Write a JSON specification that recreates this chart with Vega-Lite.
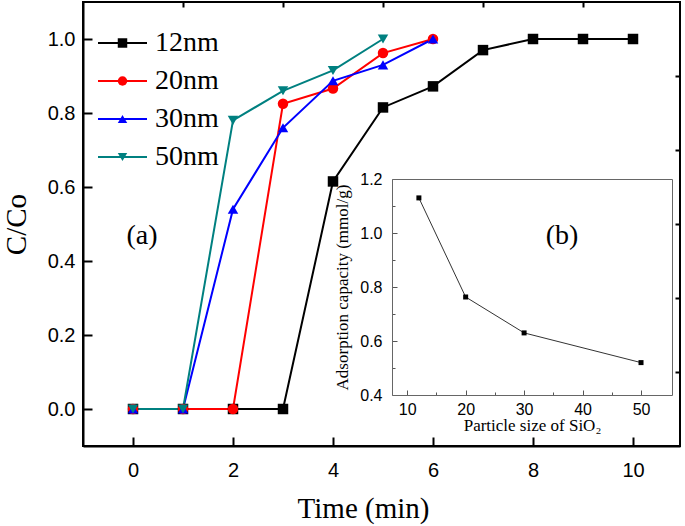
{
  "$schema": "https://vega.github.io/schema/vega-lite/v6.json",
  "width": 597,
  "height": 444,
  "autosize": "none",
  "padding": {"left": 83, "top": 2, "right": 5, "bottom": 80},
  "background": "white",
  "datasets": {
    "breakthrough": [
      {"series": "12nm", "time": 0, "c": 0},
      {"series": "12nm", "time": 1, "c": 0},
      {"series": "12nm", "time": 2, "c": 0},
      {"series": "12nm", "time": 3, "c": 0},
      {"series": "12nm", "time": 4, "c": 0.615},
      {"series": "12nm", "time": 5, "c": 0.815},
      {"series": "12nm", "time": 6, "c": 0.872},
      {"series": "12nm", "time": 7, "c": 0.97},
      {"series": "12nm", "time": 8, "c": 1.0},
      {"series": "12nm", "time": 9, "c": 1.0},
      {"series": "12nm", "time": 10, "c": 1.0},
      {"series": "20nm", "time": 0, "c": 0},
      {"series": "20nm", "time": 1, "c": 0},
      {"series": "20nm", "time": 2, "c": 0},
      {"series": "20nm", "time": 3, "c": 0.825},
      {"series": "20nm", "time": 4, "c": 0.866},
      {"series": "20nm", "time": 5, "c": 0.962},
      {"series": "20nm", "time": 6, "c": 1.0},
      {"series": "30nm", "time": 0, "c": 0},
      {"series": "30nm", "time": 1, "c": 0},
      {"series": "30nm", "time": 2, "c": 0.54},
      {"series": "30nm", "time": 3, "c": 0.76},
      {"series": "30nm", "time": 4, "c": 0.887},
      {"series": "30nm", "time": 5, "c": 0.93},
      {"series": "30nm", "time": 6, "c": 1.0},
      {"series": "50nm", "time": 0, "c": 0},
      {"series": "50nm", "time": 1, "c": 0},
      {"series": "50nm", "time": 2, "c": 0.78},
      {"series": "50nm", "time": 3, "c": 0.86},
      {"series": "50nm", "time": 4, "c": 0.915},
      {"series": "50nm", "time": 5, "c": 1.0}
    ],
    "capacity": [
      {"size": 12, "capacity": 1.13},
      {"size": 20, "capacity": 0.763},
      {"size": 30, "capacity": 0.63},
      {"size": 50, "capacity": 0.52}
    ],
    "seriesList": [
      {"series": "12nm"},
      {"series": "20nm"},
      {"series": "30nm"},
      {"series": "50nm"}
    ],
    "panelLabels": [
      {"label": "(a)"},
      {"label": "(b)"}
    ]
  },
  "layer": [
    {
      "data": {"name": "breakthrough"},
      "encoding": {
        "x": {
          "field": "time", "type": "quantitative",
          "scale": {"domain": [-1, 10.94], "nice": false, "zero": false},
          "axis": {
            "title": "Time (min)",
            "values": [0, 2, 4, 6, 8, 10],
            "ticks": false,
            "grid": true, "gridColor": "#000000", "gridWidth": 2, "gridDash": [0, 435, 9, 3000], "gridOpacity": 1,
            "labelPadding": 14,
            "titlePadding": 14,
            "titleFontWeight": "normal",
            "titleX": 280
          }
        },
        "y": {
          "field": "c", "type": "quantitative",
          "scale": {"domain": [-0.1, 1.1], "nice": false, "zero": false},
          "axis": {
            "title": "C/Co",
            "values": [0, 0.2, 0.4, 0.6, 0.8, 1.0],
            "format": ".1f",
            "ticks": false,
            "grid": true, "gridColor": "#000000", "gridWidth": 2, "gridDash": [9, 3000], "gridOpacity": 1,
            "labelPadding": 8,
            "titlePadding": 16,
            "titleFontWeight": "normal"
          }
        }
      },
      "layer": [
        {
          "mark": {"type": "line", "strokeWidth": 2},
          "encoding": {
            "color": {
              "field": "series", "type": "nominal",
              "scale": {"domain": ["12nm", "20nm", "30nm", "50nm"], "range": ["#000000", "#ff0000", "#0000ff", "#008080"]},
              "legend": null
            }
          }
        },
        {
          "mark": {"type": "point", "filled": true, "opacity": 1, "size": 110},
          "encoding": {
            "color": {
              "field": "series", "type": "nominal",
              "scale": {"domain": ["12nm", "20nm", "30nm", "50nm"], "range": ["#000000", "#ff0000", "#0000ff", "#008080"]},
              "legend": null
            },
            "shape": {
              "field": "series", "type": "nominal",
              "scale": {"domain": ["12nm", "20nm", "30nm", "50nm"], "range": ["square", "circle", "triangle-up", "triangle-down"]},
              "legend": null
            }
          }
        }
      ]
    },
    {
      "data": {"name": "breakthrough"},
      "mark": {"type": "point", "opacity": 0},
      "encoding": {
        "x": {
          "field": "time", "type": "quantitative",
          "scale": {"domain": [-1, 10.94], "nice": false, "zero": false},
          "axis": {"values": [1, 3, 5, 7, 9], "ticks": false, "labels": false, "domain": false, "title": null,
                   "grid": true, "gridColor": "#000000", "gridWidth": 2, "gridDash": [0, 439, 5, 3000], "gridOpacity": 1}
        },
        "y": {
          "field": "c", "type": "quantitative",
          "scale": {"domain": [-0.1, 1.1], "nice": false, "zero": false},
          "axis": {"values": [0.1, 0.3, 0.5, 0.7, 0.9], "ticks": false, "labels": false, "domain": false, "title": null,
                   "grid": true, "gridColor": "#000000", "gridWidth": 2, "gridDash": [5, 3000], "gridOpacity": 1}
        }
      }
    },
    {
      "data": {"name": "seriesList"},
      "encoding": {
        "y": {
          "field": "series", "type": "nominal",
          "scale": {"type": "point", "domain": ["12nm", "20nm", "30nm", "50nm"], "range": [41, 155], "padding": 0},
          "axis": null
        }
      },
      "layer": [
        {
          "mark": {"type": "rule", "strokeWidth": 2},
          "encoding": {
            "x": {"datum": 0, "type": "quantitative", "scale": {"domain": [0, 1], "range": [15, 64], "nice": false, "zero": false}, "axis": null},
            "x2": {"datum": 1},
            "color": {
              "field": "series", "type": "nominal",
              "scale": {"domain": ["12nm", "20nm", "30nm", "50nm"], "range": ["#000000", "#ff0000", "#0000ff", "#008080"]},
              "legend": null
            }
          }
        },
        {
          "mark": {"type": "point", "filled": true, "opacity": 1, "size": 90},
          "encoding": {
            "x": {"datum": 0.5, "type": "quantitative"},
            "color": {
              "field": "series", "type": "nominal",
              "scale": {"domain": ["12nm", "20nm", "30nm", "50nm"], "range": ["#000000", "#ff0000", "#0000ff", "#008080"]},
              "legend": null
            },
            "shape": {
              "field": "series", "type": "nominal",
              "scale": {"domain": ["12nm", "20nm", "30nm", "50nm"], "range": ["square", "circle", "triangle-up", "triangle-down"]},
              "legend": null
            }
          }
        },
        {
          "mark": {"type": "text", "align": "left", "baseline": "middle", "font": "Liberation Serif", "fontSize": 28, "dx": 8, "color": "#000000"},
          "encoding": {
            "x": {"datum": 1, "type": "quantitative"},
            "text": {"field": "series"}
          }
        }
      ]
    },
    {
      "data": {"name": "panelLabels"},
      "mark": {"type": "text", "align": "center", "baseline": "middle", "font": "Liberation Serif", "fontSize": 28, "color": "#000000"},
      "encoding": {
        "x": {
          "field": "label", "type": "nominal",
          "scale": {"type": "point", "domain": ["(a)", "(b)"], "range": [59, 479], "padding": 0},
          "axis": null
        },
        "y": {
          "datum": 0.468, "type": "quantitative",
          "scale": {"domain": [-0.1, 1.1], "nice": false, "zero": false},
          "axis": null
        },
        "text": {"field": "label"}
      }
    },
    {
      "data": {"name": "capacity"},
      "mark": {"type": "line", "color": "#333333", "strokeWidth": 1, "point": {"shape": "square", "size": 25, "color": "#000000", "filled": true}},
      "encoding": {
        "x": {
          "field": "size", "type": "quantitative",
          "scale": {"domain": [7.4, 55.3], "range": [309, 589], "nice": false, "zero": false},
          "axis": {
            "title": "Particle size of SiO₂",
            "orient": "bottom", "offset": -51,
            "values": [10, 20, 30, 40, 50],
            "ticks": false, "grid": false,
            "domainColor": "#666666", "domainWidth": 1,
            "labelFontSize": 16, "titleFontSize": 17, "titleFontWeight": "normal",
            "labelPadding": 6, "titlePadding": 0
          }
        },
        "y": {
          "field": "capacity", "type": "quantitative",
          "scale": {"domain": [0.4, 1.2], "range": [393, 177], "nice": false, "zero": false},
          "axis": {
            "title": "Adsorption capacity (mmol/g)",
            "orient": "left", "offset": -309,
            "values": [0.4, 0.6, 0.8, 1.0, 1.2],
            "format": ".1f",
            "ticks": false,
            "grid": true, "gridColor": "#555555", "gridWidth": 1, "gridDash": [5, 3000], "gridOpacity": 1,
            "domainColor": "#666666", "domainWidth": 1,
            "labelFontSize": 16, "titleFontSize": 17, "titleFontWeight": "normal",
            "labelPadding": 10, "titlePadding": 8
          }
        }
      }
    },
    {
      "data": {"name": "capacity"},
      "mark": {"type": "point", "opacity": 0},
      "encoding": {
        "x": {
          "field": "size", "type": "quantitative",
          "scale": {"domain": [7.4, 55.3], "range": [309, 589], "nice": false, "zero": false},
          "axis": {"orient": "top", "offset": -177, "values": [10, 20, 30, 40, 50], "title": null, "labels": false, "ticks": false,
                   "domainColor": "#666666", "domainWidth": 1,
                   "grid": true, "gridColor": "#555555", "gridWidth": 1, "gridDash": [5, 3000], "gridOpacity": 1}
        },
        "y": {
          "field": "capacity", "type": "quantitative",
          "scale": {"domain": [0.4, 1.2], "range": [393, 177], "nice": false, "zero": false},
          "axis": {"orient": "right", "offset": -8, "title": null, "labels": false, "ticks": false, "grid": false,
                   "domainColor": "#666666", "domainWidth": 1}
        }
      }
    },
    {
      "data": {"name": "capacity"},
      "mark": {"type": "point", "opacity": 0},
      "encoding": {
        "x": {
          "field": "size", "type": "quantitative",
          "scale": {"domain": [7.4, 55.3], "range": [309, 589], "nice": false, "zero": false},
          "axis": {"orient": "top", "offset": -177, "values": [15, 25, 35, 45], "title": null, "labels": false, "ticks": false, "domain": false,
                   "grid": true, "gridColor": "#555555", "gridWidth": 1, "gridDash": [3, 3000], "gridOpacity": 1}
        },
        "y": {
          "field": "capacity", "type": "quantitative",
          "scale": {"domain": [0.4, 1.2], "range": [393, 177], "nice": false, "zero": false},
          "axis": {"orient": "left", "offset": -309, "values": [0.5, 0.7, 0.9, 1.1], "title": null, "labels": false, "ticks": false, "domain": false,
                   "grid": true, "gridColor": "#555555", "gridWidth": 1, "gridDash": [3, 3000], "gridOpacity": 1}
        }
      }
    }
  ],
  "resolve": {"scale": {"x": "independent", "y": "independent"}},
  "config": {
    "view": {"stroke": "#000000", "strokeWidth": 2},
    "axis": {
      "grid": false,
      "domainColor": "#000000", "domainWidth": 2,
      "labelFont": "Liberation Sans", "labelFontSize": 20, "labelColor": "#000000",
      "titleFont": "Liberation Serif", "titleFontSize": 29, "titleFontWeight": "normal", "titleColor": "#000000"
    }
  }
}
